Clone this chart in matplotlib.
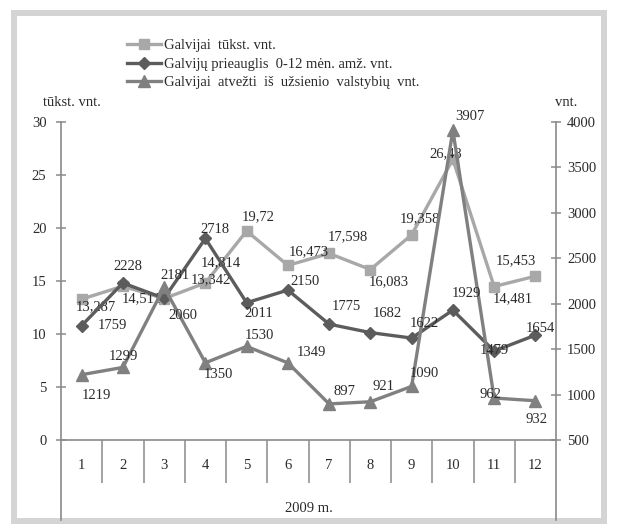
import matplotlib
matplotlib.use("Agg")
import matplotlib.pyplot as plt
from matplotlib.patches import Rectangle
from matplotlib.transforms import blended_transform_factory

plt.rcParams['font.family'] = ['Liberation Serif', 'DejaVu Serif']

months = list(range(1, 13))
month_labels = [str(m) for m in months]

galvijai = [13.287, 14.511, 13.342, 14.814, 19.72, 16.473, 17.598, 16.083, 19.358, 26.48, 14.481, 15.453]
galvijai_lbl = ["13,287", "14,511", "13,342", "14,814", "19,72", "16,473", "17,598", "16,083", "19,358", "26,48", "14,481", "15,453"]
prieauglis = [1759, 2228, 2060, 2718, 2011, 2150, 1775, 1682, 1622, 1929, 1479, 1654]
atvezti = [1219, 1299, 2181, 1350, 1530, 1349, 897, 921, 1090, 3907, 962, 932]

# label offsets (pixels) relative to the points
off_g = [(14, -8), (19, -13), (47, 19), (15, 20), (12, 14), (21, 14), (19, 17), (18, -12), (8, 16), (-7, 6), (19, -12), (-19, 16)]
off_p = [(31, 0), (5, 16), (19, -17), (10, 9), (12, -11), (17, 9), (17, 18), (17, 19), (13, 15), (14, 17), (0, 1), (5, 7)]
off_a = [(15, -21), (1, 11), (11, 12), (13, -12), (13, 11), (24, 10), (15, 12), (13, 15), (13, 13), (17, 14), (-4, 4), (1, -19)]

c_g = '#a8a8a8'
c_p = '#5c5c5c'
c_a = '#808080'
c_axis = '#8a8a8a'
c_txt = '#2a2a2a'
fs = 10.5

fig = plt.figure(figsize=(6.17, 5.28), dpi=100)
W, H = 617, 528
ax = fig.add_axes([61 / W, (H - 440) / H, 495 / W, 318 / H])
ax2 = ax.twinx()

ax.set_xlim(0.5, 12.5)
ax.set_ylim(0, 30)
ax2.set_ylim(500, 4000)

l1, = ax.plot(months, galvijai, color=c_g, lw=2.4, marker='s', ms=7.5, mec=c_g, mfc=c_g,
              label='Galvijai  tūkst. vnt.')
l2, = ax2.plot(months, prieauglis, color=c_p, lw=2.4, marker='D', ms=6.5, mec=c_p, mfc=c_p,
               label='Galvijų prieauglis  0-12 mėn. amž. vnt.')
l3, = ax2.plot(months, atvezti, color=c_a, lw=2.4, marker='^', ms=9, mec=c_a, mfc=c_a,
               label='Galvijai  atvežti  iš  užsienio  valstybių  vnt.')

for x, y, t, o in zip(months, galvijai, galvijai_lbl, off_g):
    ax.annotate(t, (x, y), xytext=o, textcoords='offset pixels',
                ha='center', va='center', fontsize=fs, color=c_txt)
for x, y, o in zip(months, prieauglis, off_p):
    ax2.annotate(str(y), (x, y), xytext=o, textcoords='offset pixels',
                 ha='center', va='center', fontsize=fs, color=c_txt, zorder=5)
for x, y, o in zip(months, atvezti, off_a):
    ax2.annotate(str(y), (x, y), xytext=o, textcoords='offset pixels',
                 ha='center', va='center', fontsize=fs, color=c_txt, zorder=5)

# axes styling
for a in (ax, ax2):
    for s in ('top', 'left', 'right', 'bottom'):
        a.spines[s].set_visible(False)
ax.spines['bottom'].set_visible(True)
ax.spines['bottom'].set_color(c_axis)
ax.spines['bottom'].set_linewidth(1.2)

ax.set_yticks([0, 5, 10, 15, 20, 25, 30])
ax.tick_params(axis='y', direction='inout', length=7, width=1.1, color=c_axis,
               pad=7, labelsize=fs, labelcolor=c_txt)
ax2.set_yticks([500, 1000, 1500, 2000, 2500, 3000, 3500, 4000])
ax2.tick_params(axis='y', direction='inout', length=7, width=1.1, color=c_axis,
                pad=4.5, labelsize=fs, labelcolor=c_txt)

ax.set_xticks(months)
ax.set_xticklabels(month_labels)
ax.set_xticks([m + 0.5 for m in months[:-1]], minor=True)
ax.tick_params(axis='x', which='major', length=0, pad=14, labelsize=fs, labelcolor=c_txt)
ax.tick_params(axis='x', which='minor', direction='out', length=31, width=1.1, color=c_axis)

# vertical axis lines extending below the plot
tr = blended_transform_factory(ax.transAxes, fig.transFigure)
for xa in (0, 1):
    ax.plot([xa, xa], [(H - 122) / H, (H - 520) / H], transform=tr, color=c_axis,
            lw=1.2, clip_on=False, zorder=0)

fig.text(308.5 / W, (H - 509) / H, '2009 m.', ha='center', va='center', fontsize=fs, color=c_txt)
fig.text(72 / W, (H - 103) / H, 'tūkst. vnt.', ha='center', va='center', fontsize=fs, color=c_txt)
fig.text(566 / W, (H - 103) / H, 'vnt.', ha='center', va='center', fontsize=fs, color=c_txt)

leg = fig.legend(handles=[l1, l2, l3], loc='upper left', bbox_to_anchor=(127 / W, (H - 39) / H),
                 frameon=False, fontsize=fs, handlelength=2.3, handletextpad=0.25,
                 labelspacing=0.37, borderaxespad=0, borderpad=0, labelcolor=c_txt)

fig.patches.append(Rectangle((14 / W, 7 / H), 590 / W, 508 / H, transform=fig.transFigure,
                             fill=False, edgecolor='#d4d4d4', lw=4.3, zorder=-1))

fig.savefig('out.png', dpi=100)
